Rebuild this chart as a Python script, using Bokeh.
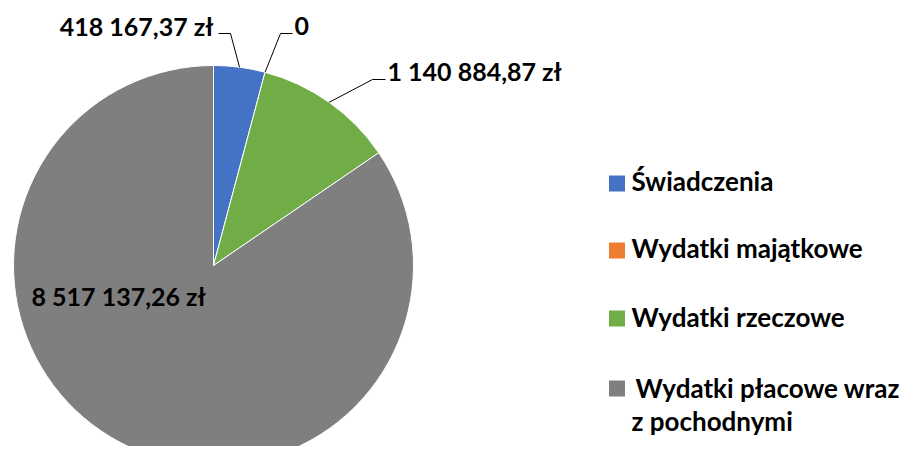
import numpy as np
from bokeh.plotting import figure
from bokeh.models import Range1d
from bokeh.core.properties import value
from bokeh.embed import file_html
from bokeh.resources import INLINE

# ---- data ----
categories = ["Świadczenia", "Wydatki majątkowe", "Wydatki rzeczowe",
              "Wydatki płacowe wraz z pochodnymi"]
amounts = [418167.37, 0.0, 1140884.87, 8517137.26]
value_labels = ["418 167,37 zł", "0", "1 140 884,87 zł", "8 517 137,26 zł"]
colors = ["#4472C4", "#ED7D31", "#70AD47", "#7F7F7F"]
legend_lines = [["Świadczenia"], ["Wydatki majątkowe"], ["Wydatki rzeczowe"],
                ["Wydatki płacowe wraz", "z pochodnymi"]]

# ---- layout ----
W, H, M = 917, 462, 8
PW, PH = W - 2 * M, H - 2 * M
FONT = "Lato"
FS_LABEL = "25px"
FS_LEG = "26px"
TEXT_SHIFT = 10  # compensate svg baseline placement


def Y(y):
    return H - y


CX, CY, R = 213, 265, 200

p = figure(width=PW, height=PH,
           x_range=Range1d(0, PW), y_range=Range1d(H - PH, H),
           output_backend="svg", toolbar_location=None, min_border=0)
p.axis.visible = False
p.grid.visible = False
p.outline_line_color = None
p.background_fill_color = "white"
p.border_fill_color = "white"

vals = np.array(amounts)
frac = vals / vals.sum()
cum = np.concatenate([[0.0], np.cumsum(frac)])
start = np.pi / 2 - cum[:-1] * 2 * np.pi
end = np.pi / 2 - cum[1:] * 2 * np.pi
mask = frac > 0
cols = np.array(colors)

p.wedge(x=CX, y=Y(CY), radius=R,
        start_angle=start[mask], end_angle=end[mask], direction="clock",
        fill_color=list(cols[mask]), line_color="white", line_width=1)

# leader lines: from slice mid-point on the rim to an elbow, then horizontal
mid = np.pi / 2 - (cum[:-1] + frac / 2) * 2 * np.pi
rim_x = CX + R * np.cos(mid)
rim_y = Y(CY) + R * np.sin(mid)
elbows = [(230, 33), (280, 33), (372, 79)]
tails = [(218, 33), (292, 33), (385, 79)]
xs, ys = [], []
for i in range(3):
    xs.append([rim_x[i], elbows[i][0], tails[i][0]])
    ys.append([rim_y[i], Y(elbows[i][1]), Y(tails[i][1])])
p.multi_line(xs=xs, ys=ys, line_color="black", line_width=1)

label_pos = [(213, 35, "right"), (294, 35, "left"), (387, 80, "left"), (31, 305, "left")]
for (lx, ly, al), t in zip(label_pos, value_labels):
    p.text(x=[lx], y=[Y(ly - TEXT_SHIFT)], text=[t], text_font=value(FONT),
           text_font_style="bold", text_font_size=FS_LABEL, text_align=al,
           text_baseline="alphabetic", text_color="black")

# legend
sq_y = [183, 250, 318, 388]
base_y = [190, 257, 326, 397]
text_x = [631, 631, 631, 635]
p.scatter(x=[616.5] * 4, y=[Y(v) for v in sq_y], marker="square", size=16,
          fill_color=colors, line_color=None)
line_gap = 33
for tx, yy, lines in zip(text_x, base_y, legend_lines):
    for k, t in enumerate(lines):
        x0 = tx if k == 0 else 631
        p.text(x=[x0], y=[Y(yy + k * line_gap - TEXT_SHIFT)], text=[t],
               text_font=value(FONT), text_font_style="bold", text_font_size=FS_LEG,
               text_align="left", text_baseline="alphabetic", text_color="black")

open("out.html", "w").write(file_html(p, INLINE))
